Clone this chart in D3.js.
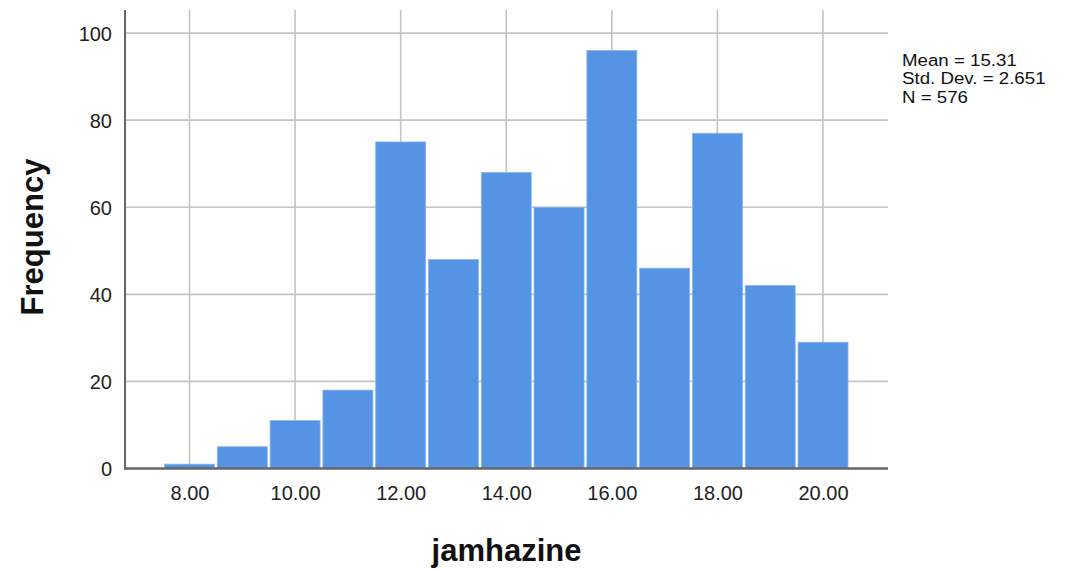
<!DOCTYPE html>
<html>
<head>
<meta charset="utf-8">
<script src="https://cdn.jsdelivr.net/npm/d3@7"></script>
<style>
  html, body { margin: 0; padding: 0; background: #ffffff; }
  svg { display: block; }
  text { font-family: "Liberation Sans", Arial, sans-serif; }
</style>
</head>
<body>
<div id="chart"></div>
<script>
// ---- data ----
const binCenters = [8, 9, 10, 11, 12, 13, 14, 15, 16, 17, 18, 19, 20];
const frequencies = [1, 5, 11, 18, 75, 48, 68, 60, 96, 46, 77, 42, 29];
const xTickValues = [8, 10, 12, 14, 16, 18, 20];
const yTickValues = [0, 20, 40, 60, 80, 100];
const statsLines = ["Mean = 15.31", "Std. Dev. = 2.651", "N = 576"];
const xTitle = "jamhazine";
const yTitle = "Frequency";
const binWidth = 1;

// ---- layout ----
const W = 1068, H = 570;
const svg = d3.select("#chart").append("svg").attr("width", W).attr("height", H);

const x = d3.scaleLinear().domain([6.778, 21.231]).range([125, 888]);
const y = d3.scaleLinear().domain([0, 105.3]).range([468.5, 10]);

const gridColor = "#c4c4c4";
const axisColor = "#666666";

// gridlines horizontal
svg.append("g").selectAll("line").data(yTickValues.filter(d => d > 0)).join("line")
  .attr("x1", x.range()[0]).attr("x2", x.range()[1])
  .attr("y1", d => y(d)).attr("y2", d => y(d))
  .attr("stroke", gridColor).attr("stroke-width", 1.6);

// gridlines vertical
svg.append("g").selectAll("line").data(xTickValues).join("line")
  .attr("x1", d => x(d)).attr("x2", d => x(d))
  .attr("y1", y.range()[1]).attr("y2", y(0))
  .attr("stroke", gridColor).attr("stroke-width", 1.6);

// bars
svg.append("g").selectAll("rect").data(binCenters).join("rect")
  .attr("x", (d) => x(d - binWidth / 2) + 1.4)
  .attr("width", (d) => x(d + binWidth / 2) - x(d - binWidth / 2) - 2.8)
  .attr("y", (d, i) => y(frequencies[i]))
  .attr("height", (d, i) => y(0) - y(frequencies[i]))
  .attr("fill", "#5594e4")
  .attr("stroke", "#8bb6ee")
  .attr("stroke-width", 0.8);

// axes lines
svg.append("line")
  .attr("x1", x.range()[0]).attr("x2", x.range()[0])
  .attr("y1", y.range()[1]).attr("y2", y(0) + 1)
  .attr("stroke", axisColor).attr("stroke-width", 2);
svg.append("line")
  .attr("x1", x.range()[0] - 1).attr("x2", x.range()[1])
  .attr("y1", y(0)).attr("y2", y(0))
  .attr("stroke", axisColor).attr("stroke-width", 2.4);

// y tick labels
const yAxis = d3.axisLeft(y).tickValues(yTickValues).tickSize(0).tickPadding(13).tickFormat(d3.format("d"));
const gy = svg.append("g").attr("transform", `translate(${x.range()[0]},0)`).call(yAxis);
gy.select(".domain").remove();
gy.selectAll("text").attr("font-size", 20).attr("fill", "#222").attr("dy", "0.36em")
  .style("font-family", "'Liberation Sans', Arial, sans-serif");

// x tick labels
const xAxis = d3.axisBottom(x).tickValues(xTickValues).tickSize(0).tickPadding(17).tickFormat(d3.format(".2f"));
const gx = svg.append("g").attr("transform", `translate(0,${y(0)})`).call(xAxis);
gx.select(".domain").remove();
gx.selectAll("text").attr("font-size", 20).attr("fill", "#222")
  .style("font-family", "'Liberation Sans', Arial, sans-serif");

// axis titles
svg.append("text")
  .attr("x", (x.range()[0] + x.range()[1]) / 2).attr("y", 561)
  .attr("text-anchor", "middle").attr("font-size", 31).attr("font-weight", "bold")
  .attr("fill", "#111").text(xTitle);
svg.append("text")
  .attr("transform", "translate(43,237) rotate(-90)")
  .attr("text-anchor", "middle").attr("font-size", 31).attr("font-weight", "bold")
  .attr("fill", "#111").text(yTitle);

// stats
svg.append("g").attr("transform", "translate(902,0) scale(1.1,1)")
  .selectAll("text").data(statsLines).join("text")
  .attr("x", 0).attr("y", (d, i) => 66 + i * 18.5)
  .attr("font-size", 17).attr("fill", "#111").text(d => d);
</script>
</body>
</html>
